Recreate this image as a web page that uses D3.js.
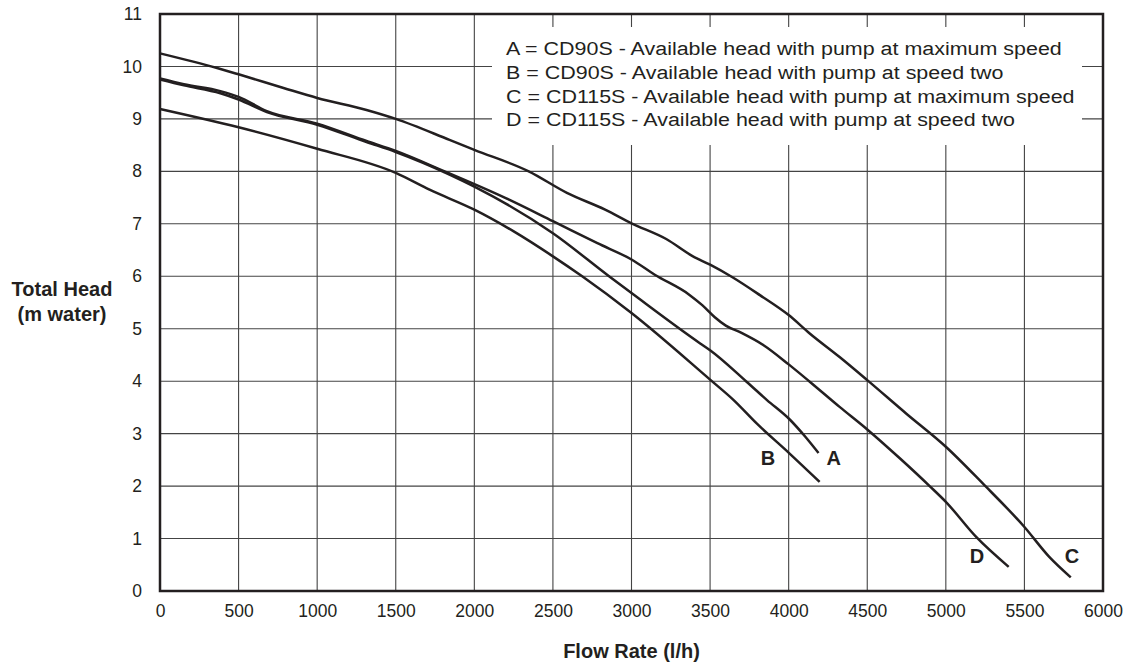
<!DOCTYPE html>
<html>
<head>
<meta charset="utf-8">
<script src="https://cdn.jsdelivr.net/npm/d3@7"></script>
<style>
  body { margin: 0; background: #fff; }
  svg text { font-family: "Liberation Sans", Arial, sans-serif; fill: #231f20; }
</style>
</head>
<body>
<div id="chart"></div>
<script>
// pump curves, flow (l/h) vs head (m water)
const curveA = [[0,9.75],[152,9.64],[384,9.49],[500,9.37],[680,9.13],[1000,8.89],[1314,8.56],[1500,8.37],[1842,7.94],[2000,7.71],[2500,6.82],[2857,6.0],[3000,5.68],[3437,4.72],[3500,4.59],[3732,3.99],[3862,3.64],[4010,3.26],[4106,2.94],[4190,2.63]];
const curveB = [[0,9.19],[500,8.84],[1000,8.43],[1500,7.97],[1715,7.65],[2000,7.27],[2248,6.86],[2500,6.38],[2686,6.0],[3000,5.3],[3500,4.03],[3650,3.64],[3798,3.19],[4006,2.62],[4197,2.08]];
const curveC = [[0,10.25],[363,9.97],[500,9.85],[786,9.59],[1000,9.4],[1314,9.17],[1500,9.0],[1842,8.6],[2000,8.41],[2346,8.0],[2589,7.59],[2832,7.27],[3000,7.01],[3221,6.71],[3391,6.38],[3500,6.22],[3637,5.99],[3817,5.64],[4000,5.26],[4134,4.91],[4324,4.46],[4500,4.02],[4749,3.38],[5000,2.75],[5235,2.05],[5500,1.22],[5658,0.65],[5795,0.26]];
const curveD = [[0,9.77],[152,9.66],[384,9.53],[500,9.42],[680,9.15],[1000,8.91],[1314,8.58],[1500,8.39],[1811,8.0],[2200,7.49],[2500,7.05],[2783,6.63],[3000,6.32],[3148,6.03],[3367,5.65],[3450,5.45],[3530,5.22],[3600,5.06],[3700,4.92],[3838,4.69],[4000,4.32],[4134,3.99],[4324,3.51],[4500,3.08],[4707,2.53],[4897,2.0],[5000,1.7],[5193,1.03],[5400,0.46]];

const curveNames = ["A", "B", "C", "D"];
const legendLines = [
  "A = CD90S - Available head with pump at maximum speed",
  "B = CD90S - Available head with pump at speed two",
  "C = CD115S - Available head with pump at maximum speed",
  "D = CD115S - Available head with pump at speed two"
];
// where each end label sits (flow, head at baseline)
const endLabels = [[4286, 2.4], [3869, 2.4], [5802, 0.53], [5198, 0.53]];

const xTicks = d3.range(0, 6001, 500);
const yTicks = d3.range(0, 12, 1);

const width = 1131, height = 667;
const margin = {left: 160, right: 28, top: 14, bottom: 76};

const svg = d3.select("#chart").append("svg")
  .attr("width", width)
  .attr("height", height);

const x = d3.scaleLinear().domain([0, 6000]).range([margin.left, width - margin.right]);
const y = d3.scaleLinear().domain([0, 11]).range([height - margin.bottom, margin.top]);

// grid
svg.append("g")
  .selectAll("line")
  .data(xTicks.slice(1, -1))
  .join("line")
  .attr("x1", d => x(d)).attr("x2", d => x(d))
  .attr("y1", y(0)).attr("y2", y(11))
  .attr("stroke", "#444").attr("stroke-width", 1.1);

svg.append("g")
  .selectAll("line")
  .data(yTicks.slice(1, -1))
  .join("line")
  .attr("x1", x(0)).attr("x2", x(6000))
  .attr("y1", d => y(d)).attr("y2", d => y(d))
  .attr("stroke", "#444").attr("stroke-width", 1.1);

// legend box covers the grid
svg.append("rect")
  .attr("x", 492).attr("y", 27)
  .attr("width", 590).attr("height", 118)
  .attr("fill", "#fff");

// the original lettering is a bit wider than Arial, stretch to fit
const legend = svg.append("g");
legend.selectAll("text")
  .data(legendLines)
  .join("text")
  .attr("x", 0)
  .attr("y", (d, i) => 55 + i * 23.8)
  .style("font-size", "18px")
  .text(d => d);
const firstW = legend.select("text").node().getComputedTextLength();
legend.attr("transform", `translate(506,0) scale(${556 / firstW},1)`);

// frame
svg.append("rect")
  .attr("x", x(0)).attr("y", y(11))
  .attr("width", x(6000) - x(0)).attr("height", y(0) - y(11))
  .attr("fill", "none")
  .attr("stroke", "#231f20")
  .attr("stroke-width", 2.5);

// axes (labels only, grid already drawn)
const xAxis = svg.append("g")
  .attr("transform", `translate(0,${y(0)})`)
  .call(d3.axisBottom(x).tickValues(xTicks).tickSize(0).tickPadding(14).tickFormat(d3.format("d")));
const yAxis = svg.append("g")
  .attr("transform", `translate(${x(0)},0)`)
  .call(d3.axisLeft(y).tickValues(yTicks).tickSize(0).tickPadding(18));
[xAxis, yAxis].forEach(a => {
  a.select(".domain").remove();
  a.selectAll("text").style("font-size", "17.5px").attr("fill", "#231f20")
    .style("font-family", "'Liberation Sans', Arial, sans-serif");
});

// curves
const line = d3.line()
  .x(d => x(d[0]))
  .y(d => y(d[1]))
  .curve(d3.curveMonotoneX);

svg.append("g")
  .selectAll("path")
  .data([curveA, curveB, curveC, curveD])
  .join("path")
  .attr("d", line)
  .attr("fill", "none")
  .attr("stroke", "#231f20")
  .attr("stroke-width", 2.5);

svg.append("g")
  .selectAll("text")
  .data(curveNames)
  .join("text")
  .attr("x", (d, i) => x(endLabels[i][0]))
  .attr("y", (d, i) => y(endLabels[i][1]))
  .attr("text-anchor", "middle")
  .style("font-size", "20px")
  .style("font-weight", "bold")
  .text(d => d);

// axis titles
svg.append("text")
  .attr("x", x(3000)).attr("y", 658)
  .attr("text-anchor", "middle")
  .style("font-size", "20px").style("font-weight", "bold")
  .text("Flow Rate (l/h)");

svg.append("text")
  .attr("x", 62).attr("y", 296)
  .attr("text-anchor", "middle")
  .style("font-size", "20px").style("font-weight", "bold")
  .text("Total Head");
svg.append("text")
  .attr("x", 62).attr("y", 321)
  .attr("text-anchor", "middle")
  .style("font-size", "20px").style("font-weight", "bold")
  .text("(m water)");
</script>
</body>
</html>
